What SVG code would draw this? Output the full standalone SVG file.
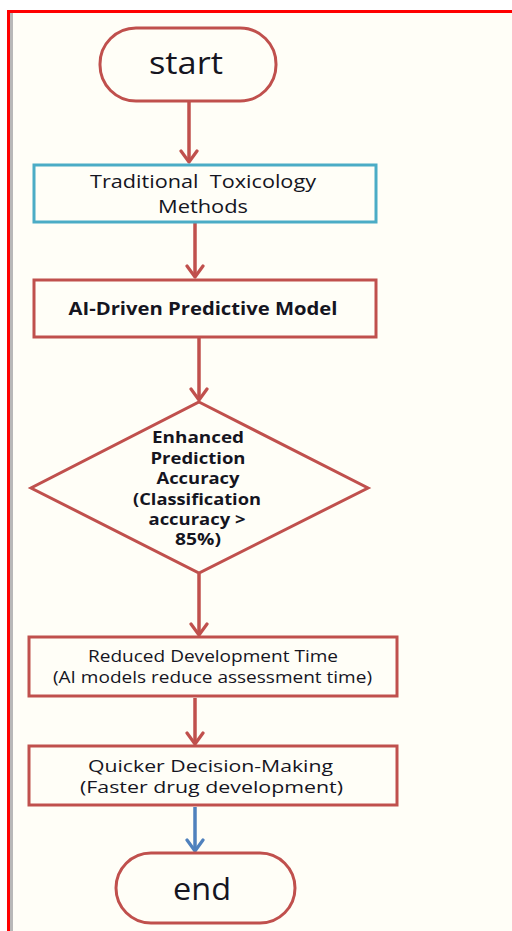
<svg xmlns="http://www.w3.org/2000/svg" width="512" height="931" viewBox="0 0 512 931">
  <style>
    .node { fill: #FFFEF7; stroke: #C0504D; stroke-width: 3; }
    .cyan { stroke: #4BACC6; }
    .lbl { font-family: "Open Sans", "Liberation Sans", sans-serif; fill: #15151F; text-anchor: middle; }
    .bold { font-weight: bold; }
    .edge { fill: none; stroke: #C0504D; stroke-width: 3.5; }
    .blue { stroke: #4F81BD; }
  </style>
  <defs>
    <!-- open chevron heads; tip lies on the +x axis so orient="auto" points them along the line -->
    <marker id="headRed" viewBox="0 0 16 22" refX="14" refY="11" markerWidth="16" markerHeight="22" markerUnits="userSpaceOnUse" orient="auto">
      <path d="M3,3 L14,11 L3,19" fill="none" stroke="#C0504D" stroke-width="3.2" stroke-linecap="round" stroke-linejoin="round"/>
    </marker>
    <marker id="headBlue" viewBox="0 0 16 22" refX="14" refY="11" markerWidth="16" markerHeight="22" markerUnits="userSpaceOnUse" orient="auto">
      <path d="M3,3 L14,11 L3,19" fill="none" stroke="#4F81BD" stroke-width="3.2" stroke-linecap="round" stroke-linejoin="round"/>
    </marker>
  </defs>

  <!-- page and frame -->
  <rect x="0" y="0" width="512" height="931" fill="#FFFFFF"/>
  <rect x="10" y="13" width="502" height="918" fill="#FFFEF7"/>
  <rect x="10" y="13" width="3" height="918" fill="#B8B8B8"/>
  <rect x="7" y="10" width="505" height="3" fill="#FF0000"/>
  <rect x="7" y="10" width="3" height="921" fill="#FF0000"/>

  <!-- connectors -->
  <g id="connectors">
    <path class="edge" d="M189,102 V162" marker-end="url(#headRed)"/>
    <path class="edge" d="M195,223 V277" marker-end="url(#headRed)"/>
    <path class="edge" d="M199,338 V400" marker-end="url(#headRed)"/>
    <path class="edge" d="M199,574 V635" marker-end="url(#headRed)"/>
    <path class="edge" d="M195,698 V744" marker-end="url(#headRed)"/>
    <path class="edge blue" d="M195,807 V851" marker-end="url(#headBlue)"/>
  </g>

  <g id="start">
    <rect class="node" x="100" y="28" width="176" height="73" rx="36" ry="36"/>
    <text class="lbl" x="186" y="74" font-size="31" textLength="74" lengthAdjust="spacingAndGlyphs">start</text>
  </g>

  <g id="traditional">
    <rect class="node cyan" x="34" y="165" width="342" height="57"/>
    <text class="lbl" x="203" y="188" font-size="18" textLength="226" lengthAdjust="spacingAndGlyphs" xml:space="preserve">Traditional  Toxicology</text>
    <text class="lbl" x="203" y="213" font-size="18" textLength="90" lengthAdjust="spacingAndGlyphs">Methods</text>
  </g>

  <g id="ai-model">
    <rect class="node" x="34" y="280" width="342" height="57"/>
    <text class="lbl bold" x="203" y="315" font-size="17.5" textLength="269" lengthAdjust="spacingAndGlyphs">AI-Driven Predictive Model</text>
  </g>

  <g id="accuracy">
    <polygon class="node" points="199,402 368,488 199,573 31,488"/>
    <g class="lbl bold" font-size="15.5">
      <text x="198" y="443" textLength="92" lengthAdjust="spacingAndGlyphs">Enhanced</text>
      <text x="198" y="464" textLength="95" lengthAdjust="spacingAndGlyphs">Prediction</text>
      <text x="198" y="484" textLength="83" lengthAdjust="spacingAndGlyphs">Accuracy</text>
      <text x="197" y="505" textLength="128" lengthAdjust="spacingAndGlyphs">(Classification</text>
      <text x="197" y="525" textLength="97" lengthAdjust="spacingAndGlyphs">accuracy &gt;</text>
      <text x="198" y="545" textLength="46" lengthAdjust="spacingAndGlyphs">85%)</text>
    </g>
  </g>

  <g id="reduced">
    <rect class="node" x="29" y="637" width="368" height="59"/>
    <text class="lbl" x="213" y="662" font-size="16.5" textLength="250" lengthAdjust="spacingAndGlyphs">Reduced Development Time</text>
    <text class="lbl" x="212.5" y="683" font-size="16.5" textLength="319" lengthAdjust="spacingAndGlyphs">(AI models reduce assessment time)</text>
  </g>

  <g id="quicker">
    <rect class="node" x="29" y="746" width="368" height="59"/>
    <text class="lbl" x="210.5" y="772" font-size="16.5" textLength="245" lengthAdjust="spacingAndGlyphs">Quicker Decision-Making</text>
    <text class="lbl" x="211.5" y="793" font-size="16.5" textLength="263" lengthAdjust="spacingAndGlyphs">(Faster drug development)</text>
  </g>

  <g id="end">
    <rect class="node" x="116" y="853" width="179" height="70" rx="35" ry="35"/>
    <text class="lbl" x="202" y="900" font-size="31" textLength="58" lengthAdjust="spacingAndGlyphs">end</text>
  </g>
</svg>
